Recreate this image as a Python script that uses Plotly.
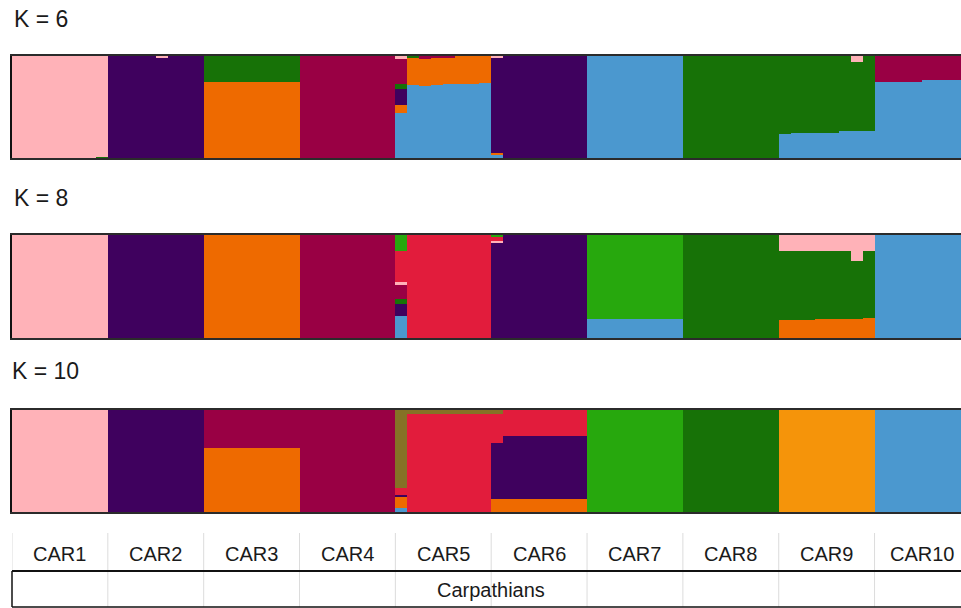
import plotly.graph_objects as go

# Populations (8 sampled individuals each) and the region they belong to
populations = ["CAR1", "CAR2", "CAR3", "CAR4", "CAR5",
               "CAR6", "CAR7", "CAR8", "CAR9", "CAR10"]
region = "Carpathians"
n_per_pop = 8

# Cluster colours
PINK = "#FFB2B8"
PURPLE = "#3F015E"
DKGREEN = "#177207"
ORANGE = "#EE6A00"
MAROON = "#990044"
BLUE = "#4B98CF"
RED = "#E21C3C"
BRGREEN = "#27A80D"
YELLOW = "#F5940A"
OLIVE = "#857126"

# ---- K = 6 membership coefficients (%), one value per individual ----
k6_blue = [0, 0, 0, 0, 0, 0, 0, 0, 0, 0, 0, 0, 0, 0, 0, 0, 0, 0, 0, 0, 0, 0, 0, 0, 0, 0, 0, 0, 0, 0, 0, 0, 44, 72, 71, 72, 73, 73, 73, 74,
           3, 0, 0, 0, 0, 0, 0, 0, 100, 100, 100, 100, 100, 100, 100, 100, 0, 0, 0, 0, 0, 0, 0, 0, 24, 25, 25, 25, 25, 26, 26, 26, 75, 75, 75, 75, 76, 76, 76, 76]
k6_orange = [0, 0, 0, 0, 0, 0, 0, 0, 0, 0, 0, 0, 0, 0, 0, 0, 75, 75, 75, 75, 75, 75, 75, 75, 0, 0, 0, 0, 0, 0, 0, 0, 8, 26, 26, 27, 26, 27, 27, 26,
             2, 0, 0, 0, 0, 0, 0, 0, 0, 0, 0, 0, 0, 0, 0, 0, 0, 0, 0, 0, 0, 0, 0, 0, 0, 0, 0, 0, 0, 0, 0, 0, 0, 0, 0, 0, 0, 0, 0, 0]
k6_purple = [0, 0, 0, 0, 0, 0, 0, 0, 100, 100, 100, 100, 99, 100, 100, 100, 0, 0, 0, 0, 0, 0, 0, 0, 0, 0, 0, 0, 0, 0, 0, 0, 16, 0, 0, 0, 0, 0, 0, 0,
             94, 100, 100, 100, 100, 100, 100, 100, 0, 0, 0, 0, 0, 0, 0, 0, 0, 0, 0, 0, 0, 0, 0, 0, 0, 0, 0, 0, 0, 0, 0, 0, 0, 0, 0, 0, 0, 0, 0, 0]
k6_dkgreen = [0, 0, 0, 0, 0, 0, 0, 1, 0, 0, 0, 0, 0, 0, 0, 0, 25, 25, 25, 25, 25, 25, 25, 25, 0, 0, 0, 0, 0, 0, 0, 0, 5, 2, 0, 0, 0, 0, 0, 0,
              0, 0, 0, 0, 0, 0, 0, 0, 0, 0, 0, 0, 0, 0, 0, 0, 100, 100, 100, 100, 100, 100, 100, 100, 76, 75, 75, 75, 75, 74, 68, 74, 0, 0, 0, 0, 0, 0, 0, 0]
k6_maroon = [0, 0, 0, 0, 0, 0, 0, 0, 0, 0, 0, 0, 0, 0, 0, 0, 0, 0, 0, 0, 0, 0, 0, 0, 100, 100, 100, 100, 100, 100, 100, 100, 24, 0, 3, 1, 1, 0, 0, 0,
             0, 0, 0, 0, 0, 0, 0, 0, 0, 0, 0, 0, 0, 0, 0, 0, 0, 0, 0, 0, 0, 0, 0, 0, 0, 0, 0, 0, 0, 0, 0, 0, 25, 25, 25, 25, 24, 24, 24, 24]
k6_pink = [100, 100, 100, 100, 100, 100, 100, 99, 0, 0, 0, 0, 1, 0, 0, 0, 0, 0, 0, 0, 0, 0, 0, 0, 0, 0, 0, 0, 0, 0, 0, 0, 3, 0, 0, 0, 0, 0, 0, 0,
           1, 0, 0, 0, 0, 0, 0, 0, 0, 0, 0, 0, 0, 0, 0, 0, 0, 0, 0, 0, 0, 0, 0, 0, 0, 0, 0, 0, 0, 0, 6, 0, 0, 0, 0, 0, 0, 0, 0, 0]

# ---- K = 8 ----
k8_blue = [0, 0, 0, 0, 0, 0, 0, 0, 0, 0, 0, 0, 0, 0, 0, 0, 0, 0, 0, 0, 0, 0, 0, 0, 0, 0, 0, 0, 0, 0, 0, 0, 21, 0, 0, 0, 0, 0, 0, 0,
           0, 0, 0, 0, 0, 0, 0, 0, 18, 18, 18, 18, 18, 18, 18, 18, 0, 0, 0, 0, 0, 0, 0, 0, 0, 0, 0, 0, 0, 0, 0, 0, 100, 100, 100, 100, 100, 100, 100, 100]
k8_orange = [0, 0, 0, 0, 0, 0, 0, 0, 0, 0, 0, 0, 0, 0, 0, 0, 100, 100, 100, 100, 100, 100, 100, 100, 0, 0, 0, 0, 0, 0, 0, 0, 0, 0, 0, 0, 0, 0, 0, 0,
             0, 0, 0, 0, 0, 0, 0, 0, 0, 0, 0, 0, 0, 0, 0, 0, 0, 0, 0, 0, 0, 0, 0, 0, 17, 17, 17, 18, 18, 18, 18, 19, 0, 0, 0, 0, 0, 0, 0, 0]
k8_purple = [0, 0, 0, 0, 0, 0, 0, 0, 100, 100, 100, 100, 100, 100, 100, 100, 0, 0, 0, 0, 0, 0, 0, 0, 0, 0, 0, 0, 0, 0, 0, 0, 12, 0, 0, 0, 0, 0, 0, 0,
             92, 100, 100, 100, 100, 100, 100, 100, 0, 0, 0, 0, 0, 0, 0, 0, 0, 0, 0, 0, 0, 0, 0, 0, 0, 0, 0, 0, 0, 0, 0, 0, 0, 0, 0, 0, 0, 0, 0, 0]
k8_dkgreen = [0, 0, 0, 0, 0, 0, 0, 0, 0, 0, 0, 0, 0, 0, 0, 0, 0, 0, 0, 0, 0, 0, 0, 0, 0, 0, 0, 0, 0, 0, 0, 0, 5, 0, 0, 0, 0, 0, 0, 0,
              0, 0, 0, 0, 0, 0, 0, 0, 0, 0, 0, 0, 0, 0, 0, 0, 100, 100, 100, 100, 100, 100, 100, 100, 67, 67, 67, 66, 66, 66, 57, 65, 0, 0, 0, 0, 0, 0, 0, 0]
k8_maroon = [0, 0, 0, 0, 0, 0, 0, 0, 0, 0, 0, 0, 0, 0, 0, 0, 0, 0, 0, 0, 0, 0, 0, 0, 100, 100, 100, 100, 100, 100, 100, 100, 13, 0, 0, 0, 0, 0, 0, 0,
             0, 0, 0, 0, 0, 0, 0, 0, 0, 0, 0, 0, 0, 0, 0, 0, 0, 0, 0, 0, 0, 0, 0, 0, 0, 0, 0, 0, 0, 0, 0, 0, 0, 0, 0, 0, 0, 0, 0, 0]
k8_pink = [100, 100, 100, 100, 100, 100, 100, 100, 0, 0, 0, 0, 0, 0, 0, 0, 0, 0, 0, 0, 0, 0, 0, 0, 0, 0, 0, 0, 0, 0, 0, 0, 3, 0, 0, 0, 0, 0, 0, 0,
           2, 0, 0, 0, 0, 0, 0, 0, 0, 0, 0, 0, 0, 0, 0, 0, 0, 0, 0, 0, 0, 0, 0, 0, 16, 16, 16, 16, 16, 16, 25, 16, 0, 0, 0, 0, 0, 0, 0, 0]
k8_red = [0, 0, 0, 0, 0, 0, 0, 0, 0, 0, 0, 0, 0, 0, 0, 0, 0, 0, 0, 0, 0, 0, 0, 0, 0, 0, 0, 0, 0, 0, 0, 0, 30, 100, 100, 100, 100, 100, 100, 100,
          4, 0, 0, 0, 0, 0, 0, 0, 0, 0, 0, 0, 0, 0, 0, 0, 0, 0, 0, 0, 0, 0, 0, 0, 0, 0, 0, 0, 0, 0, 0, 0, 0, 0, 0, 0, 0, 0, 0, 0]
k8_brgreen = [0, 0, 0, 0, 0, 0, 0, 0, 0, 0, 0, 0, 0, 0, 0, 0, 0, 0, 0, 0, 0, 0, 0, 0, 0, 0, 0, 0, 0, 0, 0, 0, 16, 0, 0, 0, 0, 0, 0, 0,
              2, 0, 0, 0, 0, 0, 0, 0, 82, 82, 82, 82, 82, 82, 82, 82, 0, 0, 0, 0, 0, 0, 0, 0, 0, 0, 0, 0, 0, 0, 0, 0, 0, 0, 0, 0, 0, 0, 0, 0]

# ---- K = 10 ----
k10_blue = [0, 0, 0, 0, 0, 0, 0, 0, 0, 0, 0, 0, 0, 0, 0, 0, 0, 0, 0, 0, 0, 0, 0, 0, 0, 0, 0, 0, 0, 0, 0, 0, 4, 0, 0, 0, 0, 0, 0, 0,
            0, 0, 0, 0, 0, 0, 0, 0, 0, 0, 0, 0, 0, 0, 0, 0, 0, 0, 0, 0, 0, 0, 0, 0, 0, 0, 0, 0, 0, 0, 0, 0, 100, 100, 100, 100, 100, 100, 100, 100]
k10_orange = [0, 0, 0, 0, 0, 0, 0, 0, 0, 0, 0, 0, 0, 0, 0, 0, 63, 63, 63, 63, 63, 63, 63, 63, 0, 0, 0, 0, 0, 0, 0, 0, 11, 0, 0, 0, 0, 0, 0, 0,
              13, 13, 13, 13, 13, 13, 13, 13, 0, 0, 0, 0, 0, 0, 0, 0, 0, 0, 0, 0, 0, 0, 0, 0, 0, 0, 0, 0, 0, 0, 0, 0, 0, 0, 0, 0, 0, 0, 0, 0]
k10_purple = [0, 0, 0, 0, 0, 0, 0, 0, 100, 100, 100, 100, 100, 100, 100, 100, 0, 0, 0, 0, 0, 0, 0, 0, 0, 0, 0, 0, 0, 0, 0, 0, 2, 0, 0, 0, 0, 0, 0, 0,
              55, 62, 62, 62, 62, 62, 62, 62, 0, 0, 0, 0, 0, 0, 0, 0, 0, 0, 0, 0, 0, 0, 0, 0, 0, 0, 0, 0, 0, 0, 0, 0, 0, 0, 0, 0, 0, 0, 0, 0]
k10_maroon = [0, 0, 0, 0, 0, 0, 0, 0, 0, 0, 0, 0, 0, 0, 0, 0, 37, 37, 37, 37, 37, 37, 37, 37, 100, 100, 100, 100, 100, 100, 100, 100, 0, 0, 0, 0, 0, 0, 0, 0,
              0, 0, 0, 0, 0, 0, 0, 0, 0, 0, 0, 0, 0, 0, 0, 0, 0, 0, 0, 0, 0, 0, 0, 0, 0, 0, 0, 0, 0, 0, 0, 0, 0, 0, 0, 0, 0, 0, 0, 0]
k10_red = [0, 0, 0, 0, 0, 0, 0, 0, 0, 0, 0, 0, 0, 0, 0, 0, 0, 0, 0, 0, 0, 0, 0, 0, 0, 0, 0, 0, 0, 0, 0, 0, 7, 96, 96, 96, 96, 96, 96, 96,
           28, 25, 25, 25, 25, 25, 25, 25, 0, 0, 0, 0, 0, 0, 0, 0, 0, 0, 0, 0, 0, 0, 0, 0, 0, 0, 0, 0, 0, 0, 0, 0, 0, 0, 0, 0, 0, 0, 0, 0]
k10_olive = [0, 0, 0, 0, 0, 0, 0, 0, 0, 0, 0, 0, 0, 0, 0, 0, 0, 0, 0, 0, 0, 0, 0, 0, 0, 0, 0, 0, 0, 0, 0, 0, 76, 4, 4, 4, 4, 4, 4, 4,
             4, 0, 0, 0, 0, 0, 0, 0, 0, 0, 0, 0, 0, 0, 0, 0, 0, 0, 0, 0, 0, 0, 0, 0, 0, 0, 0, 0, 0, 0, 0, 0, 0, 0, 0, 0, 0, 0, 0, 0]
k10_pink = [100, 100, 100, 100, 100, 100, 100, 100, 0, 0, 0, 0, 0, 0, 0, 0, 0, 0, 0, 0, 0, 0, 0, 0, 0, 0, 0, 0, 0, 0, 0, 0, 0, 0, 0, 0, 0, 0, 0, 0,
            0, 0, 0, 0, 0, 0, 0, 0, 0, 0, 0, 0, 0, 0, 0, 0, 0, 0, 0, 0, 0, 0, 0, 0, 0, 0, 0, 0, 0, 0, 0, 0, 0, 0, 0, 0, 0, 0, 0, 0]
k10_brgreen = [0, 0, 0, 0, 0, 0, 0, 0, 0, 0, 0, 0, 0, 0, 0, 0, 0, 0, 0, 0, 0, 0, 0, 0, 0, 0, 0, 0, 0, 0, 0, 0, 0, 0, 0, 0, 0, 0, 0, 0,
               0, 0, 0, 0, 0, 0, 0, 0, 100, 100, 100, 100, 100, 100, 100, 100, 0, 0, 0, 0, 0, 0, 0, 0, 0, 0, 0, 0, 0, 0, 0, 0, 0, 0, 0, 0, 0, 0, 0, 0]
k10_dkgreen = [0, 0, 0, 0, 0, 0, 0, 0, 0, 0, 0, 0, 0, 0, 0, 0, 0, 0, 0, 0, 0, 0, 0, 0, 0, 0, 0, 0, 0, 0, 0, 0, 0, 0, 0, 0, 0, 0, 0, 0,
               0, 0, 0, 0, 0, 0, 0, 0, 0, 0, 0, 0, 0, 0, 0, 0, 100, 100, 100, 100, 100, 100, 100, 100, 0, 0, 0, 0, 0, 0, 0, 0, 0, 0, 0, 0, 0, 0, 0, 0]
k10_yellow = [0, 0, 0, 0, 0, 0, 0, 0, 0, 0, 0, 0, 0, 0, 0, 0, 0, 0, 0, 0, 0, 0, 0, 0, 0, 0, 0, 0, 0, 0, 0, 0, 0, 0, 0, 0, 0, 0, 0, 0,
              0, 0, 0, 0, 0, 0, 0, 0, 0, 0, 0, 0, 0, 0, 0, 0, 0, 0, 0, 0, 0, 0, 0, 0, 100, 100, 100, 100, 100, 100, 100, 100, 0, 0, 0, 0, 0, 0, 0, 0]

# Panels: label, stacking order bottom -> top
panels = [
    ("K = 6", [(k6_blue, BLUE), (k6_orange, ORANGE), (k6_purple, PURPLE),
               (k6_dkgreen, DKGREEN), (k6_maroon, MAROON), (k6_pink, PINK)]),
    ("K = 8", [(k8_blue, BLUE), (k8_orange, ORANGE), (k8_purple, PURPLE),
               (k8_dkgreen, DKGREEN), (k8_maroon, MAROON), (k8_pink, PINK),
               (k8_red, RED), (k8_brgreen, BRGREEN)]),
    ("K = 10", [(k10_blue, BLUE), (k10_orange, ORANGE), (k10_purple, PURPLE),
                (k10_maroon, MAROON), (k10_red, RED), (k10_olive, OLIVE),
                (k10_pink, PINK), (k10_brgreen, BRGREEN), (k10_dkgreen, DKGREEN),
                (k10_yellow, YELLOW)]),
]

W, H = 961, 608
LEFT = 12
n_ind = n_per_pop * len(populations)
individuals = list(range(n_ind))
ind_px = 11.98
x_range = [-0.5, -0.5 + (W - LEFT) / ind_px]

# Panel vertical extents in pixels (top, bottom) and label rows
panel_px = [(56, 158), (235, 338), (410, 512)]
label_px = [(12, 19), (12, 198), (10, 371)]


def py(px):
    return 1 - px / H


fig = go.Figure()
annotations = []
for i, (label, comps) in enumerate(panels):
    ax = "" if i == 0 else str(i + 1)
    for vals, color in comps:
        fig.add_trace(go.Bar(
            x=individuals, y=vals, xaxis="x" + ax, yaxis="y" + ax,
            marker=dict(color=color, line=dict(width=0)),
            showlegend=False, hoverinfo="skip", width=1.0,
        ))
    top, bot = panel_px[i]
    fig.layout["xaxis" + ax] = dict(
        domain=[LEFT / W, 1], range=x_range, showticklabels=False, ticks="",
        showgrid=False, zeroline=False, showline=True, mirror=True,
        linecolor="#2b2b2b", linewidth=1.5, anchor="y" + ax,
    )
    fig.layout["yaxis" + ax] = dict(
        domain=[py(bot), py(top)], range=[0, 100], showticklabels=False,
        ticks="", showgrid=False, zeroline=False, showline=True,
        linecolor="#111111", linewidth=2, anchor="x" + ax,
    )
    lx, ly = label_px[i]
    annotations.append(dict(
        text=label, x=lx / W, y=py(ly), xref="paper", yref="paper",
        xanchor="left", yanchor="middle", showarrow=False,
        font=dict(family="Liberation Sans, Arial", size=23, color="#1a1a1a"),
    ))

# Population table under the panels
shapes = []
hdr_top, hdr_bot, row_bot = 533, 571, 607
for p in range(len(populations) + 1):
    xb = p * n_per_pop - 0.5
    shapes.append(dict(type="line", xref="x3", yref="paper", x0=xb, x1=xb,
                       y0=py(hdr_top), y1=py(row_bot if p else hdr_bot),
                       line=dict(color="#dcdcdc", width=1)))
shapes.append(dict(type="line", xref="paper", yref="paper", x0=LEFT / W, x1=LEFT / W,
                   y0=py(hdr_bot), y1=py(row_bot), line=dict(color="#111111", width=1.5)))
shapes.append(dict(type="line", xref="paper", yref="paper", x0=LEFT / W, x1=1,
                   y0=py(hdr_bot), y1=py(hdr_bot), line=dict(color="#111111", width=2)))
shapes.append(dict(type="line", xref="paper", yref="paper", x0=LEFT / W, x1=1,
                   y0=py(row_bot), y1=py(row_bot), line=dict(color="#111111", width=1.5)))

for p, name in enumerate(populations):
    annotations.append(dict(
        text=name, x=p * n_per_pop + (n_per_pop - 1) / 2, y=py(554),
        xref="x3", yref="paper", xanchor="center", yanchor="middle",
        showarrow=False,
        font=dict(family="Liberation Sans, Arial", size=20, color="#1a1a1a"),
    ))
annotations.append(dict(
    text=region, x=(n_ind - 1) / 2, y=py(590), xref="x3", yref="paper",
    xanchor="center", yanchor="middle", showarrow=False,
    font=dict(family="Liberation Sans, Arial", size=20, color="#1a1a1a"),
))

fig.update_layout(
    width=W, height=H, margin=dict(l=0, r=0, t=0, b=0),
    barmode="stack", bargap=0, paper_bgcolor="white", plot_bgcolor="white",
    annotations=annotations, shapes=shapes, showlegend=False,
)

fig.write_html("out.html")
